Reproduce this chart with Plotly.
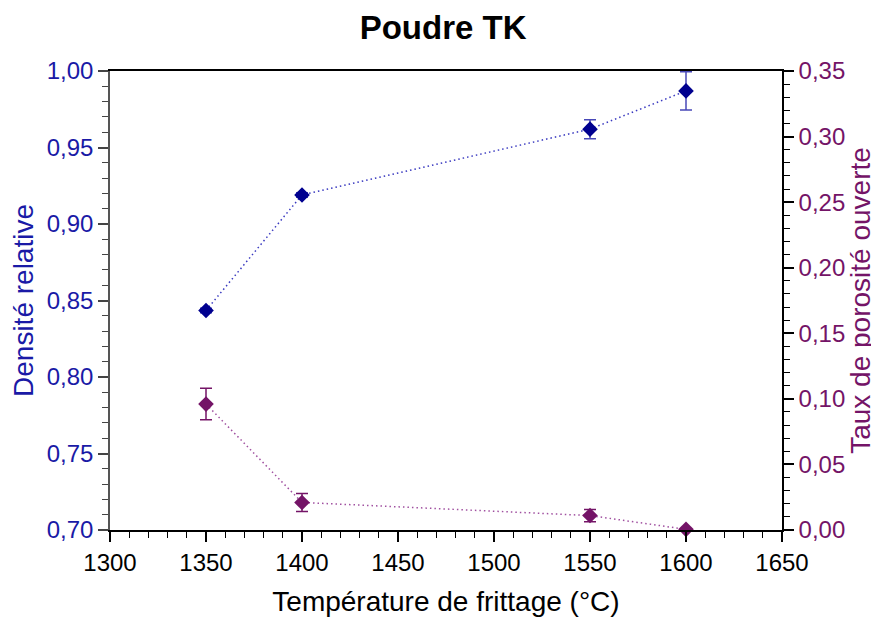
import plotly.graph_objects as go

temperature = [1350, 1400, 1550, 1600]
densite = [0.8435, 0.919, 0.962, 0.987]
densite_err = [0.0015, 0.0015, 0.0062, 0.0125]
porosite = [0.096, 0.021, 0.011, 0.0005]
porosite_err = [0.012, 0.0068, 0.0047, 0.0]

blue = "#00008F"
blue_text = "#1A1AA6"
blue_err = "#4848B8"
purple = "#741467"
font_family = "Liberation Sans, Arial, sans-serif"

fig = go.Figure()
fig.add_trace(go.Scatter(
    x=temperature, y=densite, mode="lines+markers",
    line=dict(color="#3A3AC0", width=1.5, dash="1.5px,3px"),
    marker=dict(symbol="diamond", size=12, color=blue),
    error_y=dict(type="data", array=densite_err, color=blue_err, thickness=1.5, width=6),
    cliponaxis=False, yaxis="y", showlegend=False,
))
fig.add_trace(go.Scatter(
    x=temperature, y=porosite, mode="lines+markers",
    line=dict(color="#A050A0", width=1.5, dash="1.5px,3px"),
    marker=dict(symbol="diamond", size=12, color=purple),
    error_y=dict(type="data", array=porosite_err, color=purple, thickness=1.5, width=6),
    cliponaxis=False, yaxis="y2", showlegend=False,
))

fig.update_layout(
    width=879, height=619,
    margin=dict(l=102, r=105, t=63, b=97, autoexpand=False),
    paper_bgcolor="white", plot_bgcolor="white",
    separators=", ",
    font=dict(family=font_family, size=24, color="black"),
    title=dict(text="<b>Poudre TK</b>", x=0.495, xanchor="center", y=0.968, yanchor="middle",
               font=dict(size=33, color="black", family=font_family)),
    xaxis=dict(
        range=[1300, 1650], dtick=50, tick0=1300, automargin=False,
        showline=True, linecolor="black", linewidth=1.5, mirror=True,
        ticks="outside", ticklen=10, tickwidth=1.5, tickcolor="black",
        minor=dict(ticks="outside", ticklen=6, dtick=10, tickcolor="black", tickwidth=1.2),
        showgrid=False, zeroline=False,
        tickfont=dict(size=24, color="black"),
        title=dict(text="Température de frittage (°C)", font=dict(size=28, color="black"), standoff=17),
    ),
    yaxis=dict(
        range=[0.70, 1.00], dtick=0.05, tick0=0.70, tickformat=".2f", automargin=False,
        showline=True, linecolor="#555555", linewidth=1.5,
        ticks="outside", ticklen=10, tickwidth=1.5, tickcolor="#444444",
        minor=dict(ticks="outside", ticklen=6, dtick=0.01, tickcolor="#444444", tickwidth=1.2),
        showgrid=False, zeroline=False,
        tickfont=dict(size=24, color=blue_text),
        title=dict(text="Densité relative", font=dict(size=28, color=blue_text), standoff=8),
    ),
    yaxis2=dict(
        range=[0, 0.35], dtick=0.05, tick0=0, tickformat=".2f", automargin=False,
        overlaying="y", side="right",
        showline=True, linecolor="black", linewidth=1.5,
        ticks="outside", ticklen=10, tickwidth=1.5, tickcolor="black",
        minor=dict(ticks="outside", ticklen=6, dtick=0.01, tickcolor="black", tickwidth=1.2),
        showgrid=False, zeroline=False,
        tickfont=dict(size=24, color=purple),
        title=dict(text="Taux de porosité ouverte", font=dict(size=28, color=purple), standoff=4),
    ),
)

fig.write_html("out.html")
